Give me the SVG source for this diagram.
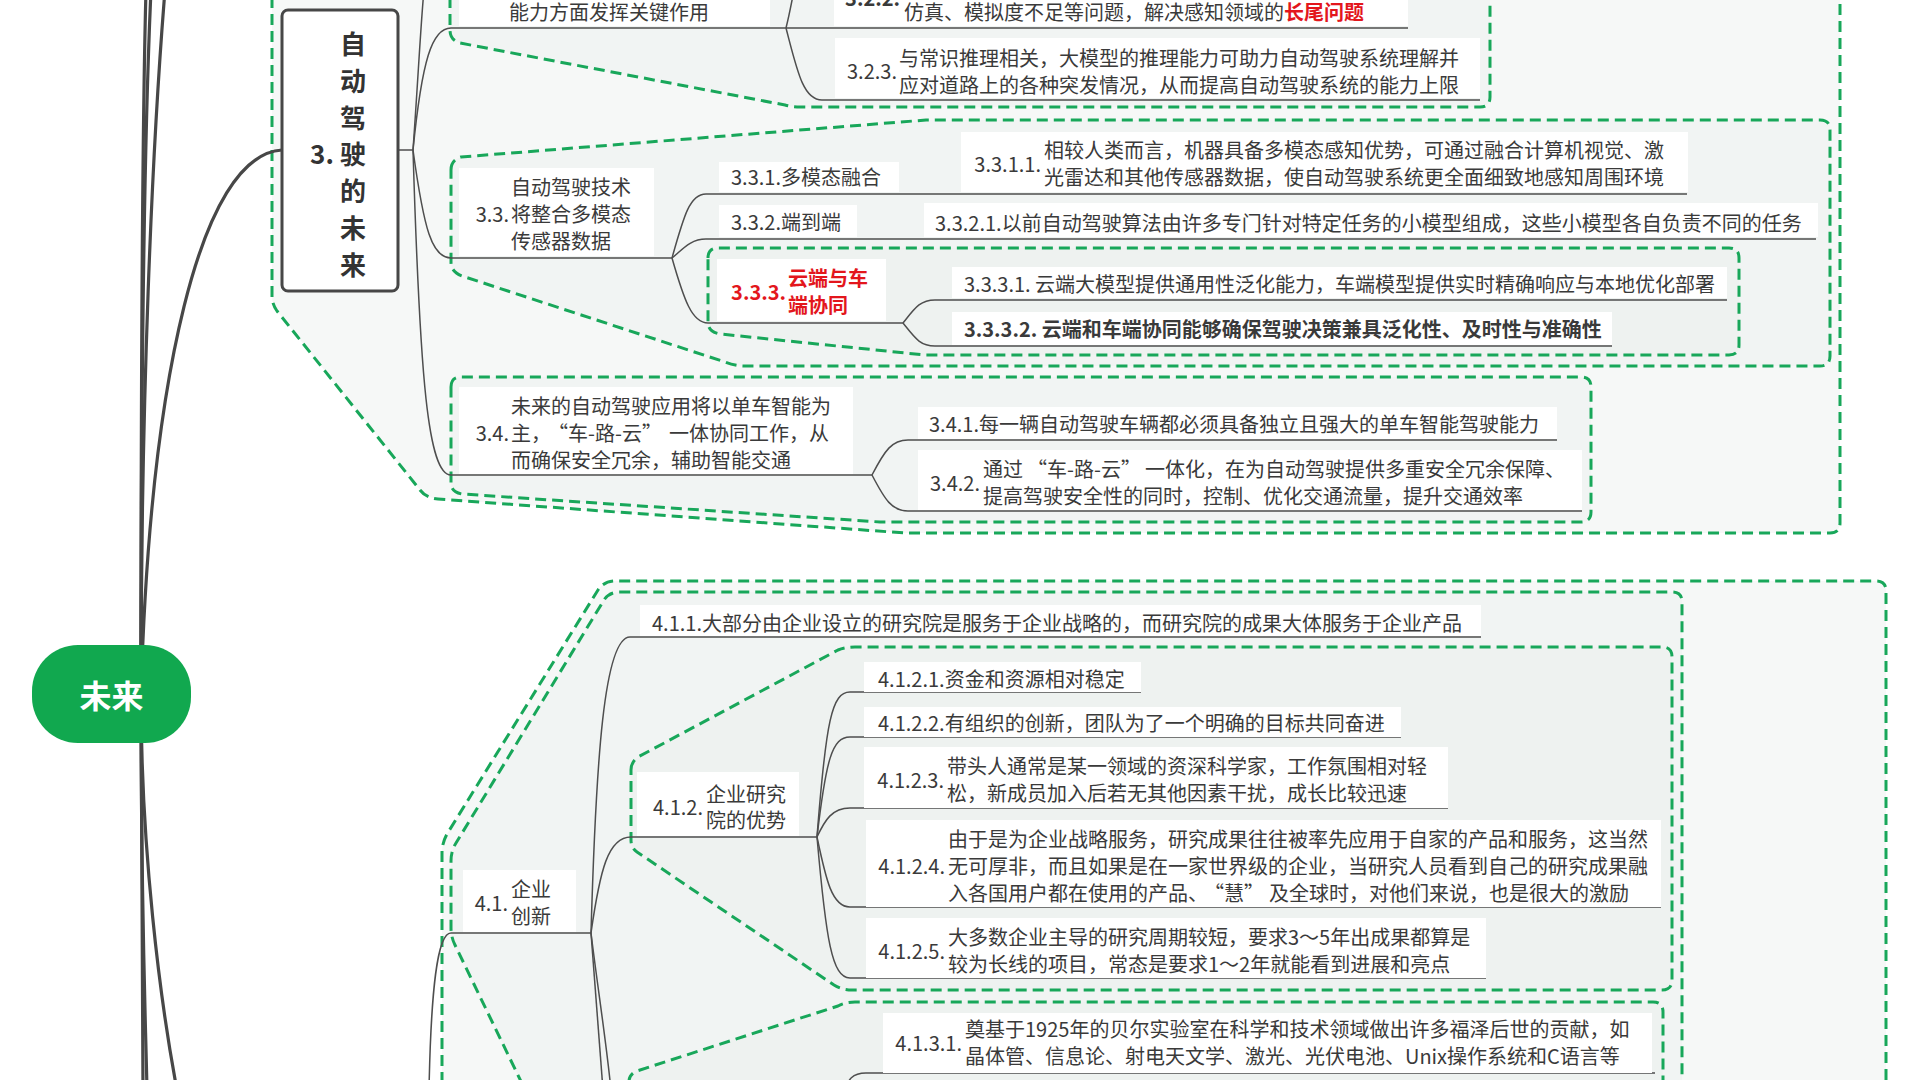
<svg xmlns="http://www.w3.org/2000/svg" width="1920" height="1080" viewBox="0 0 1920 1080">
<style>
.bd{fill:#eaefee;fill-opacity:.45;stroke:#18a75a;stroke-width:3;stroke-dasharray:11 6;stroke-linejoin:round}
.rl{fill:none;stroke:#474747;stroke-width:3.2;stroke-linecap:round}
.cn{fill:none;stroke:#4e4e4e;stroke-width:1.5}
.bg{fill:#ffffff}
text{font-family:"Noto Sans CJK SC","Noto Sans",sans-serif;font-size:20px;fill:#3a3a3a;dominant-baseline:central}
.pre{text-anchor:end}
.b{font-weight:bold}
.red{fill:#e3161c;font-weight:bold}
.n3{font-size:26px;font-weight:bold;fill:#333;text-anchor:middle}
</style>
<rect width="1920" height="1080" fill="#ffffff"/>
<g id="boundaries">
<path class="bd" d="M272,-20 L272,296 Q272,304 277,311 L420,490 Q426,498 438,499 L905,533 L1830,533 Q1840,533 1840,523 L1840,-20 Z"/>
<path class="bd" d="M450,-20 L450,30 Q450,40 460,43 L785,105 Q792,107 800,107 L1480,107 Q1490,107 1490,97 L1490,-20 Z"/>
<path class="bd" d="M451,170 Q451,160 461,157 L926,120 L1820,120 Q1830,120 1830,130 L1830,356 Q1830,366 1820,366 L745,366 Q735,366 725,362 L462,276 Q451,272 451,262 Z"/>
<path class="bd" d="M708,258 Q708,248 718,248 L1729,248 Q1739,248 1739,258 L1739,345 Q1739,355 1729,355 L925,355 L720,334 Q708,332 708,322 Z"/>
<path class="bd" d="M451,387 Q451,377 461,377 L1581,377 Q1591,377 1591,387 L1591,512 Q1591,522 1581,522 L880,522 L462,494 Q451,492 451,483 Z"/>
<path class="bd" d="M442,1100 L442,853 Q442,843 447,834 L598,590 Q604,581 615,581 L1876,581 Q1886,581 1886,591 L1886,1100 Z"/>
<path class="bd" d="M530,1100 L455,945 Q451,937 451,928 L451,861 Q451,851 456,843 L604,600 Q609,592 620,592 L1672,592 Q1682,592 1682,602 L1682,1100 Z"/>
<path class="bd" d="M631,770 Q631,762 638,757 L838,650 Q845,647 855,647 L1662,647 Q1672,647 1672,657 L1672,980 Q1672,990 1662,990 L852,990 Q842,990 834,985 L637,852 Q631,848 631,840 Z"/>
<path class="bd" d="M629,1100 L629,1082 Q629,1074 637,1071 L838,1006 Q845,1002 855,1002 L1653,1002 Q1663,1002 1663,1012 L1663,1100 Z"/>
</g>
<g id="connectors">
<path class="rl" d="M141,694 C141,300 143,100 146,-10"/>
<path class="rl" d="M141,694 C141,300 146,100 151,-10"/>
<path class="rl" d="M141,694 C141,400 152,150 165,-10"/>
<path class="rl" d="M141,694 C150,380 200,155 282,150"/>
<path class="rl" d="M141,694 C141,900 142,1000 143,1090"/>
<path class="rl" d="M141,694 C141,900 145,1000 147,1090"/>
<path class="rl" d="M141,694 C141,850 160,1000 177,1090"/>
<path class="cn" d="M398,150 L413,150"/>
<path class="cn" d="M413,150 C418,80 421,20 424,-10"/>
<path class="cn" d="M413,150 C422,60 432,28 451,28 L1408,28"/>
<path class="cn" d="M786,28 C790,12 792,0 795,-15"/>
<path class="cn" d="M786,28 C797,70 803,100 822,100 L1480,100"/>
<path class="cn" d="M413,150 C424,230 432,258 451,258 L672,258"/>
<path class="cn" d="M672,258 C684,215 690,194 706,194 L1687,194"/>
<path class="cn" d="M672,258 C682,250 690,239 706,239 L1816,239"/>
<path class="cn" d="M672,258 C684,300 692,323 708,323 L903,323"/>
<path class="cn" d="M903,323 C915,308 920,300 935,300 L1727,300"/>
<path class="cn" d="M903,323 C915,338 920,346 935,346 L1612,346"/>
<path class="cn" d="M413,150 C420,380 428,475 451,475 L872,475"/>
<path class="cn" d="M872,475 C885,450 892,440 908,440 L1557,440"/>
<path class="cn" d="M872,475 C885,500 892,511 908,511 L1582,511"/>
<path class="cn" d="M429,1090 C431,990 437,933 451,933 L591,933"/>
<path class="cn" d="M591,933 C596,760 604,637 630,637 L1481,637"/>
<path class="cn" d="M591,933 C600,870 608,837 631,837 L817,837"/>
<path class="cn" d="M591,933 C596,1000 600,1050 603,1090"/>
<path class="cn" d="M591,933 C598,990 606,1040 611,1090"/>
<path class="cn" d="M817,837 C826,720 832,692 850,692 L1141,692"/>
<path class="cn" d="M817,837 C826,760 832,737 850,737 L1401,737"/>
<path class="cn" d="M817,837 C825,820 832,808 850,808 L1448,808"/>
<path class="cn" d="M817,837 C826,880 832,907 850,907 L1661,907"/>
<path class="cn" d="M817,837 C826,940 832,978 850,978 L1486,978"/>
<path class="cn" d="M845,1090 C848,1080 852,1073 866,1073 L1655,1073"/>
</g>
<g id="n-root">
<rect x="32" y="645" width="159" height="98" rx="46" fill="#11a84f"/>
<text x="111.5" y="694" style="font-size:32px;font-weight:bold;fill:#ffffff;text-anchor:middle">未来</text>
</g>
<g id="n-3">
<rect x="282" y="10" width="116" height="281" rx="6" fill="#ffffff" stroke="#474747" stroke-width="3"/>
<text class="n3" x="353" y="42">自</text>
<text class="n3" x="353" y="79">动</text>
<text class="n3" x="353" y="116">驾</text>
<text class="n3" x="353" y="152">驶</text>
<text class="n3" x="353" y="189">的</text>
<text class="n3" x="353" y="226">未</text>
<text class="n3" x="353" y="263">来</text>
<text class="n3" x="322" y="152">3.</text>
</g>
<g id="n-3-2">
<rect class="bg" x="459" y="-10" width="311" height="36"/>
<text x="509" y="11">能力方面发挥关键作用</text>
</g>
<g id="n-3-2-2">
<rect class="bg" x="834" y="-10" width="574" height="36"/>
<text class="pre b" x="900" y="-3">3.2.2.</text>
<text x="904" y="11">仿真、模拟度不足等问题，解决感知领域的<tspan class="red">长尾问题</tspan></text>
</g>
<g id="n-3-2-3">
<rect class="bg" x="835" y="38" width="645" height="60"/>
<text class="pre" x="897" y="70">3.2.3.</text>
<text x="899" y="57">与常识推理相关，大模型的推理能力可助力自动驾驶系统理解并</text>
<text x="899" y="84">应对道路上的各种突发情况，从而提高自动驾驶系统的能力上限</text>
</g>
<g id="n-3-3">
<rect class="bg" x="459" y="168" width="195" height="88"/>
<text class="pre" x="509" y="213">3.3.</text>
<text x="511" y="186">自动驾驶技术</text>
<text x="511" y="213">将整合多模态</text>
<text x="511" y="240">传感器数据</text>
</g>
<g id="n-3-3-1">
<rect class="bg" x="719" y="162" width="180" height="30"/>
<text x="731" y="176">3.3.1.多模态融合</text>
</g>
<g id="n-3-3-1-1">
<rect class="bg" x="961" y="132" width="727" height="60"/>
<text class="pre" x="1041" y="163">3.3.1.1.</text>
<text x="1044" y="149">相较人类而言，机器具备多模态感知优势，可通过融合计算机视觉、激</text>
<text x="1044" y="176">光雷达和其他传感器数据，使自动驾驶系统更全面细致地感知周围环境</text>
</g>
<g id="n-3-3-2">
<rect class="bg" x="719" y="205" width="138" height="32"/>
<text x="731" y="221">3.3.2.端到端</text>
</g>
<g id="n-3-3-2-1">
<rect class="bg" x="924" y="203" width="894" height="34"/>
<text x="935" y="222">3.3.2.1.以前自动驾驶算法由许多专门针对特定任务的小模型组成，这些小模型各自负责不同的任务</text>
</g>
<g id="n-3-3-3">
<rect class="bg" x="717" y="259" width="169" height="62"/>
<text class="pre red" x="786" y="291">3.3.3.</text>
<text class="red" x="788" y="277">云端与车</text>
<text class="red" x="788" y="304">端协同</text>
</g>
<g id="n-3-3-3-1">
<rect class="bg" x="952" y="267" width="775" height="31"/>
<text x="964" y="283">3.3.3.1. 云端大模型提供通用性泛化能力，车端模型提供实时精确响应与本地优化部署</text>
</g>
<g id="n-3-3-3-2">
<rect class="bg" x="952" y="312" width="660" height="33"/>
<text class="b" x="964" y="328">3.3.3.2. 云端和车端协同能够确保驾驶决策兼具泛化性、及时性与准确性</text>
</g>
<g id="n-3-4">
<rect class="bg" x="459" y="387" width="394" height="87"/>
<text class="pre" x="509" y="432">3.4.</text>
<text x="511" y="405">未来的自动驾驶应用将以单车智能为</text>
<text x="511" y="432">主，<tspan dx="7">“</tspan>车-路-云”<tspan dx="7">一</tspan>体协同工作，从</text>
<text x="511" y="459">而确保安全冗余，辅助智能交通</text>
</g>
<g id="n-3-4-1">
<rect class="bg" x="918" y="407" width="639" height="32"/>
<text x="929" y="423">3.4.1.每一辆自动驾驶车辆都必须具备独立且强大的单车智能驾驶能力</text>
</g>
<g id="n-3-4-2">
<rect class="bg" x="918" y="450" width="664" height="60"/>
<text class="pre" x="980" y="482">3.4.2.</text>
<text x="983" y="468">通过<tspan dx="4">“</tspan>车-路-云”<tspan dx="4">一</tspan>体化，在为自动驾驶提供多重安全冗余保障、</text>
<text x="983" y="495">提高驾驶安全性的同时，控制、优化交通流量，提升交通效率</text>
</g>
<g id="n-4-1">
<rect class="bg" x="463" y="870" width="113" height="62"/>
<text class="pre" x="508" y="902">4.1.</text>
<text x="511" y="888">企业</text>
<text x="511" y="915">创新</text>
</g>
<g id="n-4-1-1">
<rect class="bg" x="640" y="605" width="841" height="31"/>
<text x="652" y="622">4.1.1.大部分由企业设立的研究院是服务于企业战略的，而研究院的成果大体服务于企业产品</text>
</g>
<g id="n-4-1-2">
<rect class="bg" x="637" y="772" width="162" height="64"/>
<text class="pre" x="703" y="806">4.1.2.</text>
<text x="706" y="793">企业研究</text>
<text x="706" y="819">院的优势</text>
</g>
<g id="n-4-1-2-1">
<rect class="bg" x="864" y="662" width="277" height="30"/>
<text x="878" y="678">4.1.2.1.资金和资源相对稳定</text>
</g>
<g id="n-4-1-2-2">
<rect class="bg" x="864" y="707" width="537" height="30"/>
<text x="878" y="722">4.1.2.2.有组织的创新，团队为了一个明确的目标共同奋进</text>
</g>
<g id="n-4-1-2-3">
<rect class="bg" x="864" y="747" width="584" height="61"/>
<text class="pre" x="944" y="779">4.1.2.3.</text>
<text x="947" y="765">带头人通常是某一领域的资深科学家，工作氛围相对轻</text>
<text x="947" y="792">松，新成员加入后若无其他因素干扰，成长比较迅速</text>
</g>
<g id="n-4-1-2-4">
<rect class="bg" x="866" y="820" width="795" height="87"/>
<text class="pre" x="945" y="865">4.1.2.4.</text>
<text x="948" y="838">由于是为企业战略服务，研究成果往往被率先应用于自家的产品和服务，这当然</text>
<text x="948" y="865">无可厚非，而且如果是在一家世界级的企业，当研究人员看到自己的研究成果融</text>
<text x="948" y="892">入各国用户都在使用的产品、<tspan dx="6">“</tspan>慧”<tspan dx="5">及</tspan>全球时，对他们来说，也是很大的激励</text>
</g>
<g id="n-4-1-2-5">
<rect class="bg" x="866" y="918" width="620" height="60"/>
<text class="pre" x="945" y="950">4.1.2.5.</text>
<text x="948" y="936">大多数企业主导的研究周期较短，要求3～5年出成果都算是</text>
<text x="948" y="963">较为长线的项目，常态是要求1～2年就能看到进展和亮点</text>
</g>
<g id="n-4-1-3-1">
<rect class="bg" x="883" y="1013" width="769" height="60"/>
<text class="pre" x="962" y="1042">4.1.3.1.</text>
<text x="965" y="1028">奠基于1925年的贝尔实验室在科学和技术领域做出许多福泽后世的贡献，如</text>
<text x="965" y="1055">晶体管、信息论、射电天文学、激光、光伏电池、Unix操作系统和C语言等</text>
</g>
</svg>
